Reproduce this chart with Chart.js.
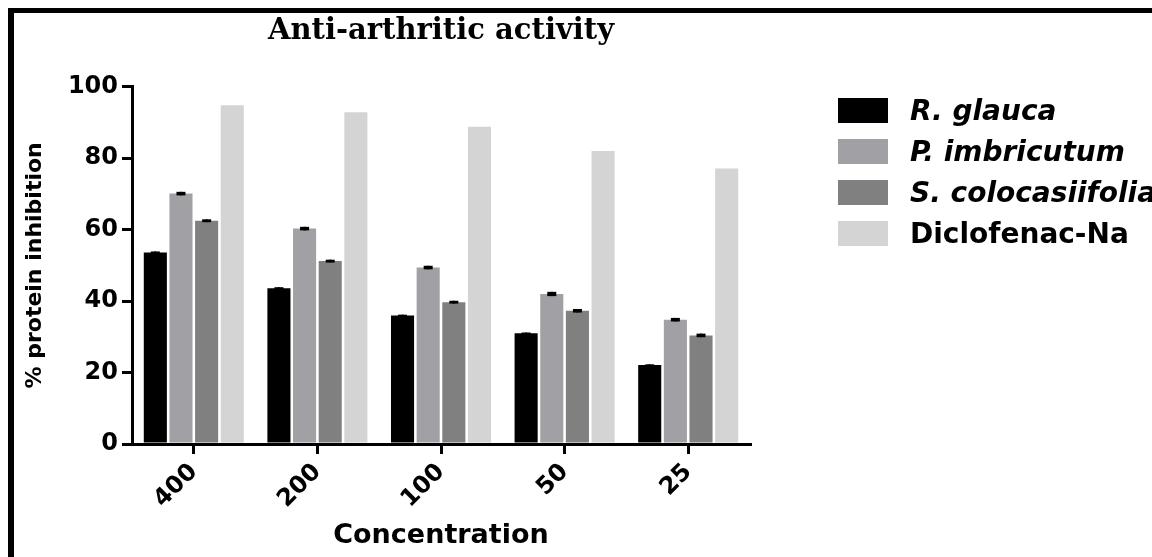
<!DOCTYPE html>
<html>
<head>
<meta charset="utf-8">
<script src="https://cdn.jsdelivr.net/npm/chart.js@4/dist/chart.umd.min.js"></script>
<style>
  html, body { margin: 0; padding: 0; background: #fff; }
  #wrap { position: relative; width: 1152px; height: 557px; overflow: hidden; }
  #frame { position: absolute; left: 8px; top: 8px; width: 1160px; height: 560px;
    border-left: 6px solid #000; border-top: 5px solid #000; pointer-events: none; }
  #legend { position: absolute; left: 838px; top: 98px; }
  .item { position: relative; height: 41px; white-space: nowrap; }
  .box { position: absolute; left: 0; top: 0; width: 50px; height: 25px; }
  .lbl { position: absolute; left: 72px; top: -4px; font: bold 28px "DejaVu Sans"; color: #000; line-height: 33px; }
</style>
</head>
<body>
<div id="wrap">
  <canvas id="chart" width="1152" height="557"></canvas>
  <div id="frame"></div>
  <div id="legend"></div>
</div>
<script>
// data
var concentrations = ["400", "200", "100", "50", "25"];
var rGlauca = [53.6, 43.6, 36.0, 31.0, 22.1];
var pImbricutum = [70.1, 60.3, 49.4, 42.0, 34.8];
var sColocasiifolia = [62.5, 51.2, 39.7, 37.3, 30.4];
var diclofenac = [94.8, 92.9, 88.8, 82.0, 77.1];
var errR = [0.3, 0.3, 0.2, 0.2, 0.2];
var errP = [0.5, 0.5, 0.5, 0.6, 0.5];
var errS = [0.4, 0.4, 0.4, 0.5, 0.5];
var errD = [0, 0, 0, 0, 0];
var yTicks = [0, 20, 40, 60, 80, 100];

var seriesNames = ["R. glauca", "P. imbricutum", "S. colocasiifolia", "Diclofenac-Na"];
var seriesItalic = [true, true, true, false];
var seriesColors = ["#000000", "#a1a1a5", "#808080", "#d4d4d4"];
var seriesValues = [rGlauca, pImbricutum, sColocasiifolia, diclofenac];
var seriesErrors = [errR, errP, errS, errD];

var datasets = seriesValues.map(function (vals, i) {
  return {
    label: seriesNames[i],
    data: vals,
    errors: seriesErrors[i],
    backgroundColor: seriesColors[i],
    borderWidth: 0,
    categoryPercentage: 0.83,
    barPercentage: 0.9
  };
});

// little error bars on top of each bar
var errorBars = {
  id: "errorBars",
  afterDatasetsDraw: function (chart) {
    var ctx = chart.ctx;
    var yScale = chart.scales.y;
    ctx.save();
    ctx.strokeStyle = "#000";
    chart.data.datasets.forEach(function (ds, di) {
      var meta = chart.getDatasetMeta(di);
      meta.data.forEach(function (bar, j) {
        var e = ds.errors[j];
        if (!e) return;
        var top = yScale.getPixelForValue(ds.data[j] + e);
        var bot = yScale.getPixelForValue(ds.data[j] - e);
        ctx.lineWidth = 2;
        ctx.beginPath();
        ctx.moveTo(bar.x, top);
        ctx.lineTo(bar.x, bot);
        ctx.stroke();
        ctx.lineWidth = Math.max(1.5, bot - top);
        ctx.beginPath();
        ctx.moveTo(bar.x - 4.5, (top + bot) / 2);
        ctx.lineTo(bar.x + 4.5, (top + bot) / 2);
        ctx.stroke();
      });
    });
    ctx.restore();
  }
};

var canvas = document.getElementById("chart");
var chart = new Chart(canvas, {
  type: "bar",
  data: { labels: concentrations, datasets: datasets },
  options: {
    responsive: false,
    animation: false,
    layout: { padding: { left: 14, right: 402, top: 0, bottom: 0 } },
    plugins: {
      legend: { display: false },
      tooltip: { enabled: false },
      title: {
        display: true,
        fullSize: false,
        text: "Anti-arthritic activity",
        color: "#000",
        font: { family: "DejaVu Serif", weight: "bold", size: 29 },
        padding: { top: 14, bottom: 38 }
      }
    },
    scales: {
      x: {
        grid: { display: true, drawOnChartArea: false, drawTicks: true, tickLength: 10,
          offset: false, color: "#000", lineWidth: 3 },
        border: { display: true, color: "#000", width: 3 },
        ticks: { color: "#000", minRotation: 45, maxRotation: 45, padding: 4,
          font: { family: "DejaVu Sans", weight: "bold", size: 24 } },
        title: { display: true, text: "Concentration", color: "#000",
          font: { family: "DejaVu Sans", weight: "bold", size: 27 },
          padding: { top: 0, bottom: 5 } },
        afterFit: function (s) { s.height = 113; }
      },
      y: {
        min: 0,
        max: 100,
        afterBuildTicks: function (s) {
          s.ticks = yTicks.map(function (v) { return { value: v }; });
        },
        grid: { display: true, drawOnChartArea: false, drawTicks: true, tickLength: 10,
          color: "#000", lineWidth: 3 },
        border: { display: true, color: "#000", width: 3 },
        ticks: { color: "#000", padding: 4,
          font: { family: "DejaVu Sans", weight: "bold", size: 24 } },
        title: { display: true, text: "% protein inhibition", color: "#000",
          font: { family: "DejaVu Sans", weight: "bold", size: 22 },
          padding: { top: 8, bottom: 0 } },
        afterFit: function (s) { s.width = 118; }
      }
    }
  },
  plugins: [errorBars]
});

// legend drawn next to the chart
var legend = document.getElementById("legend");
seriesNames.forEach(function (name, i) {
  var item = document.createElement("div");
  item.className = "item";
  var box = document.createElement("div");
  box.className = "box";
  box.style.background = seriesColors[i];
  var lbl = document.createElement("div");
  lbl.className = "lbl";
  lbl.style.fontStyle = seriesItalic[i] ? "italic" : "normal";
  lbl.textContent = name;
  item.appendChild(box);
  item.appendChild(lbl);
  legend.appendChild(item);
});
</script>
</body>
</html>
